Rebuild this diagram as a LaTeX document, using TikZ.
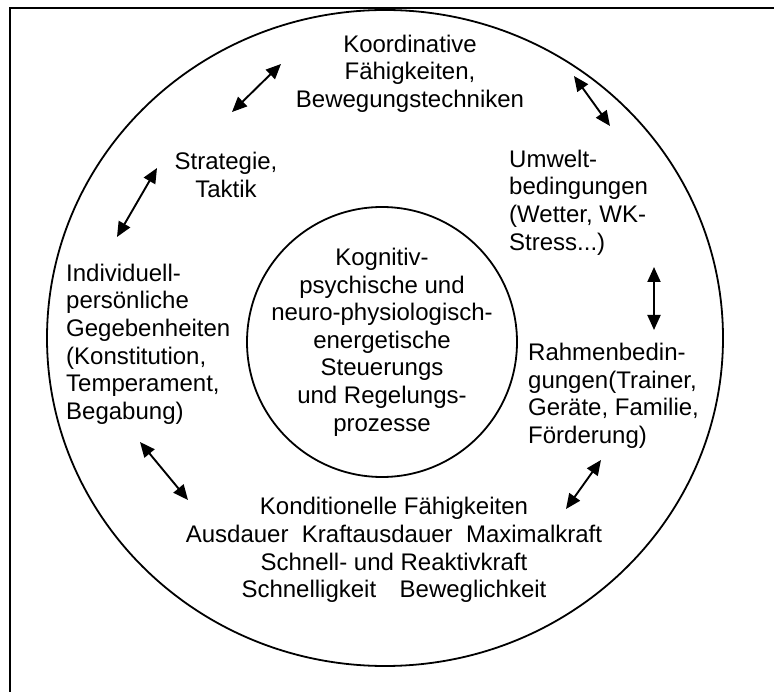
\documentclass[tikz,border=0pt]{standalone}
\usepackage{fontspec}
\setmainfont{Liberation Sans}
\usetikzlibrary{arrows.meta}
\begin{document}
\begin{tikzpicture}[x=1pt,y=-1pt,
  lbl/.style={font=\fontsize{24}{27.6}\selectfont, inner sep=0pt},
  ring/.style={line width=1.8pt},
  link/.style={line width=1.9pt,
    {Triangle[length=15pt,width=13pt]}-{Triangle[length=15pt,width=13pt]}}]
\clip (0,0) rectangle (774,692);
% frame (runs past the lower and right edges)
\draw[line width=2pt] (10,7.7) rectangle (800,720);
% outer ring and inner circle
\draw[ring] (385,338) ellipse [x radius=338pt, y radius=328pt];
\node[ring, draw, circle, minimum size=270pt, inner sep=0pt] (core) at (382,342) {};

% labels
\node[lbl, align=center] (koord) at (410,73.6)
  {Koordinative\\Fähigkeiten,\\Bewegungstechniken};
\node[lbl, align=center] (strat) at (226,174.8) {Strategie,\\Taktik};
\node[lbl, align=left, anchor=west] (umwelt) at (509,202.4)
  {Umwelt-\\bedingungen\\(Wetter, WK-\\Stress...)};
\node[lbl, align=left, anchor=west] (indiv) at (66,344)
  {Individuell-\\persönliche\\Gegebenheiten\\(Konstitution,\\Temperament,\\Begabung)};
\node[lbl, align=center] (kogn) at (core.center)
  {Kognitiv-\\psychische und\\neuro-physiologisch-\\energetische\\Steuerungs\\und Regelungs-\\prozesse};
\node[lbl, align=left, anchor=west] (rahmen) at (528,395.8)
  {Rahmenbedin-\\gungen(Trainer,\\Geräte, Familie,\\Förderung)};
\node[lbl, align=center] (kond) at (394,550)
  {Konditionelle Fähigkeiten\\Ausdauer\hspace{0.28em} Kraftausdauer\hspace{0.28em} Maximalkraft\\Schnell- und Reaktivkraft\\Schnelligkeit\hspace{0.7em} Beweglichkeit};

% arrow end points
\coordinate (a1) at (232,112); \coordinate (a2) at (281,64);
\coordinate (b1) at (574,76);  \coordinate (b2) at (610,126);
\coordinate (c1) at (117,237); \coordinate (c2) at (157,168);
\coordinate (d1) at (654,267); \coordinate (d2) at (654,330);
\coordinate (e1) at (140,442); \coordinate (e2) at (188,500);
\coordinate (f1) at (601,460); \coordinate (f2) at (566,509);

\draw[link] (a1) -- (a2);
\draw[link] (b1) -- (b2);
\draw[link] (c1) -- (c2);
\draw[link] (d1) -- (d2);
\draw[link] (e1) -- (e2);
\draw[link] (f1) -- (f2);
\end{tikzpicture}
\end{document}
